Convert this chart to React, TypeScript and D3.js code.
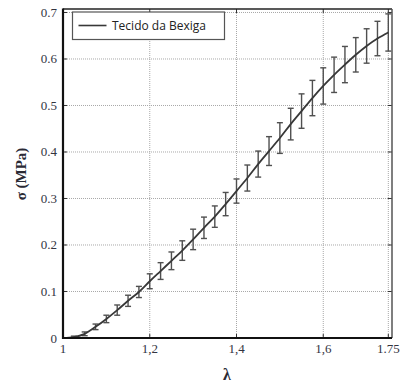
import React from "react";
import * as d3 from "d3";

const lambdas = [1, 1.025, 1.05, 1.075, 1.1, 1.125, 1.15, 1.175, 1.2, 1.225, 1.25, 1.275, 1.3, 1.325, 1.35, 1.375, 1.4, 1.425, 1.45, 1.475, 1.5, 1.525, 1.55, 1.575, 1.6, 1.625, 1.65, 1.675, 1.7, 1.725, 1.75];
const stressMean = [0, 0.002, 0.009, 0.024, 0.041, 0.06, 0.08, 0.099, 0.122, 0.144, 0.166, 0.188, 0.212, 0.237, 0.261, 0.288, 0.316, 0.344, 0.374, 0.402, 0.43, 0.46, 0.488, 0.516, 0.542, 0.566, 0.588, 0.609, 0.628, 0.644, 0.657];
const stressErr = [0, 0.002, 0.004, 0.006, 0.008, 0.011, 0.012, 0.012, 0.016, 0.018, 0.019, 0.021, 0.022, 0.023, 0.023, 0.025, 0.026, 0.028, 0.028, 0.031, 0.033, 0.034, 0.037, 0.038, 0.039, 0.038, 0.039, 0.037, 0.037, 0.037, 0.04];
const xTicks = [1, 1.2, 1.4, 1.6, 1.75];
const xTickLabels = ["1", "1,2", "1,4", "1,6", "1.75"];
const yTicks = [0, 0.1, 0.2, 0.3, 0.4, 0.5, 0.6, 0.7];
const yTickLabels = ["0", "0.1", "0.2", "0.3", "0.4", "0.5", "0.6", "0.7"];
const seriesName = "Tecido da Bexiga";

const W = 401;
const H = 385;
const L = 63, R = 392, T = 9, B = 338;

export default function App() {
  const x = d3.scaleLinear().domain([1, 1.7585]).range([L, R]);
  const y = d3.scaleLinear().domain([0, 0.7075]).range([B, T]);
  const pts = lambdas.map((l, i) => ({ l, m: stressMean[i], e: stressErr[i] }));
  const line = d3
    .line<{ l: number; m: number }>()
    .x((d) => x(d.l))
    .y((d) => y(d.m))
    .curve(d3.curveMonotoneX);
  const serif = "'Liberation Serif', 'Times New Roman', serif";
  const tickColor = "#33343f";
  return (
    <svg
      width={W}
      height={H}
      style={{ position: "absolute", left: 0, top: 0, background: "#fff" }}
    >
      {/* grid */}
      {xTicks.slice(1).map((t) => (
        <line key={"gx" + t} x1={x(t)} x2={x(t)} y1={T} y2={B} stroke="#a8a8a8" strokeDasharray="1,1" />
      ))}
      {yTicks.slice(1).map((t) => (
        <line key={"gy" + t} x1={L} x2={R} y1={y(t)} y2={y(t)} stroke="#a8a8a8" strokeDasharray="1,1" />
      ))}
      {/* inner ticks on top and right */}
      {xTicks.map((t) => (
        <g key={"tx" + t}>
          <line x1={x(t)} x2={x(t)} y1={T} y2={T + 4} stroke="#333" />
          <line x1={x(t)} x2={x(t)} y1={B} y2={B - 4} stroke="#333" />
        </g>
      ))}
      {yTicks.map((t) => (
        <g key={"ty" + t}>
          <line x1={R} x2={R - 4} y1={y(t)} y2={y(t)} stroke="#333" />
          <line x1={L} x2={L + 4} y1={y(t)} y2={y(t)} stroke="#333" />
        </g>
      ))}
      {/* error bars */}
      {pts.slice(1).map((p) => (
        <g key={"e" + p.l} stroke="#505050" strokeWidth={1.4}>
          <line x1={x(p.l)} x2={x(p.l)} y1={y(p.m - p.e)} y2={y(p.m + p.e)} />
          <line x1={x(p.l) - 3} x2={x(p.l) + 3} y1={y(p.m - p.e)} y2={y(p.m - p.e)} />
          <line x1={x(p.l) - 3} x2={x(p.l) + 3} y1={y(p.m + p.e)} y2={y(p.m + p.e)} />
        </g>
      ))}
      {/* line */}
      <path d={line(pts) || ""} fill="none" stroke="#383838" strokeWidth={1.8} />
      {/* frame */}
      <line x1={L} x2={R} y1={T} y2={T} stroke="#222" strokeWidth={1.5} />
      <line x1={R} x2={R} y1={T} y2={B} stroke="#555" strokeWidth={1.5} />
      <line x1={L} x2={L} y1={T - 0.5} y2={B + 1} stroke="#111" strokeWidth={2.2} />
      <line x1={L} x2={R} y1={B} y2={B} stroke="#111" strokeWidth={2.2} />
      {/* tick labels */}
      {xTicks.map((t, i) => (
        <text key={"lx" + t} x={x(t)} y={353} textAnchor="middle" fontFamily={serif} fontSize={13} fill={tickColor}>
          {xTickLabels[i]}
        </text>
      ))}
      {yTicks.map((t, i) => (
        <text key={"ly" + t} x={57} y={y(t) + 4.5} textAnchor="end" fontFamily={serif} fontSize={13} fill={tickColor}>
          {yTickLabels[i]}
        </text>
      ))}
      {/* axis labels */}
      <text x={227} y={380} textAnchor="middle" fontFamily={serif} fontSize={16} fontWeight="bold" fill="#2a2a35">
        λ
      </text>
      <text
        transform={`translate(26,174) rotate(-90)`}
        textAnchor="middle"
        fontFamily={serif}
        fontSize={15}
        fontWeight="bold"
        fill="#2a2a35"
      >
        σ (MPa)
      </text>
      {/* legend */}
      <rect x={72.5} y={12} width={152} height={27.5} fill="#fff" stroke="#555" strokeWidth={1.2} />
      <line x1={78.5} x2={106.5} y1={25.5} y2={25.5} stroke="#383838" strokeWidth={1.6} />
      <text x={112} y={30} fontFamily="'Open Sans', 'Noto Sans', sans-serif" fontSize={12} fill="#222">
        {seriesName}
      </text>
    </svg>
  );
}
